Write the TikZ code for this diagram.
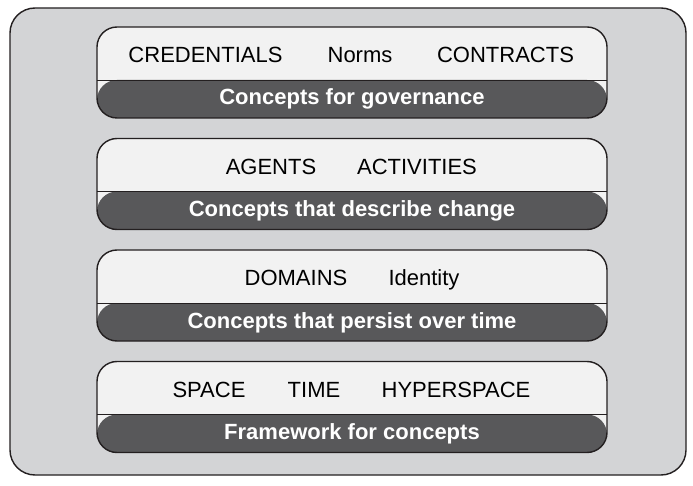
\documentclass[tikz,border=0pt]{standalone}
\usepackage{fontspec}
\setmainfont{Liberation Sans}
\usetikzlibrary{positioning}
\definecolor{framegrey}{HTML}{D3D4D6}
\definecolor{lightgrey}{HTML}{F2F2F2}
\definecolor{darkgrey}{HTML}{58585A}
\definecolor{outline}{HTML}{231F20}

\begin{document}
\begin{tikzpicture}[x = 1pt, y = -1pt]

\tikzset{
frame/.style = {rectangle, draw = outline, line width = 1.4pt, rounded corners = 25pt,
	minimum width = 676pt, minimum height = 467pt, fill = framegrey, inner sep = 0pt},
layer/.style = {rectangle, draw = outline, line width = 1.4pt, rounded corners = 20pt,
	minimum width = 510pt, minimum height = 91pt, inner sep = 0pt, fill = lightgrey,
	path picture = {\fill [darkgrey] (path picture bounding box.south west)
	rectangle ([yshift = 38pt] path picture bounding box.south east);
	\draw [outline, line width = 0.6pt] ([yshift = 38pt] path picture bounding box.south west)
	-- ([yshift = 38pt] path picture bounding box.south east);}},
concept/.style = {anchor = base, inner sep = 0pt, font = \fontsize{22}{26}\selectfont},
caption/.style = {anchor = base, inner sep = 0pt, text = white,
	font = \fontsize{22}{26}\selectfont\bfseries},
	}

\useasboundingbox (0, 0) rectangle (693, 486);

%% Frame
\node at (348, 241.5) [frame] (frame) {};

%% Layers
\node at (352, 72.5) [layer] (governance) {};
\node at (352, 184) [layer] (change) {};
\node at (352, 295.5) [layer] (persist) {};
\node at (352, 407) [layer] (framework) {};

% Governance
\node at (205.5, 62.5) [concept] (credentials) {CREDENTIALS};
\node at (360, 62.5) [concept] (norms) {Norms};
\node at (505.5, 62.5) [concept] (contracts) {CONTRACTS};
\node at (352, 105) [caption] (governancecap) {Concepts for governance};

% Change
\node at (271, 174.5) [concept] (agents) {AGENTS};
\node at (417, 174.5) [concept] (activities) {ACTIVITIES};
\node at (352, 217) [caption] (changecap) {Concepts that describe change};

% Persistence
\node at (296, 286) [concept] (domains) {DOMAINS};
\node at (424, 286) [concept] (identity) {Identity};
\node at (352, 328.5) [caption] (persistcap) {Concepts that persist over time};

% Framework
\node at (209, 397) [concept] (space) {SPACE};
\node at (314, 397) [concept] (time) {TIME};
\node at (456, 397) [concept] (hyperspace) {HYPERSPACE};
\node at (352, 439.5) [caption] (frameworkcap) {Framework for concepts};

\end{tikzpicture}
\end{document}
